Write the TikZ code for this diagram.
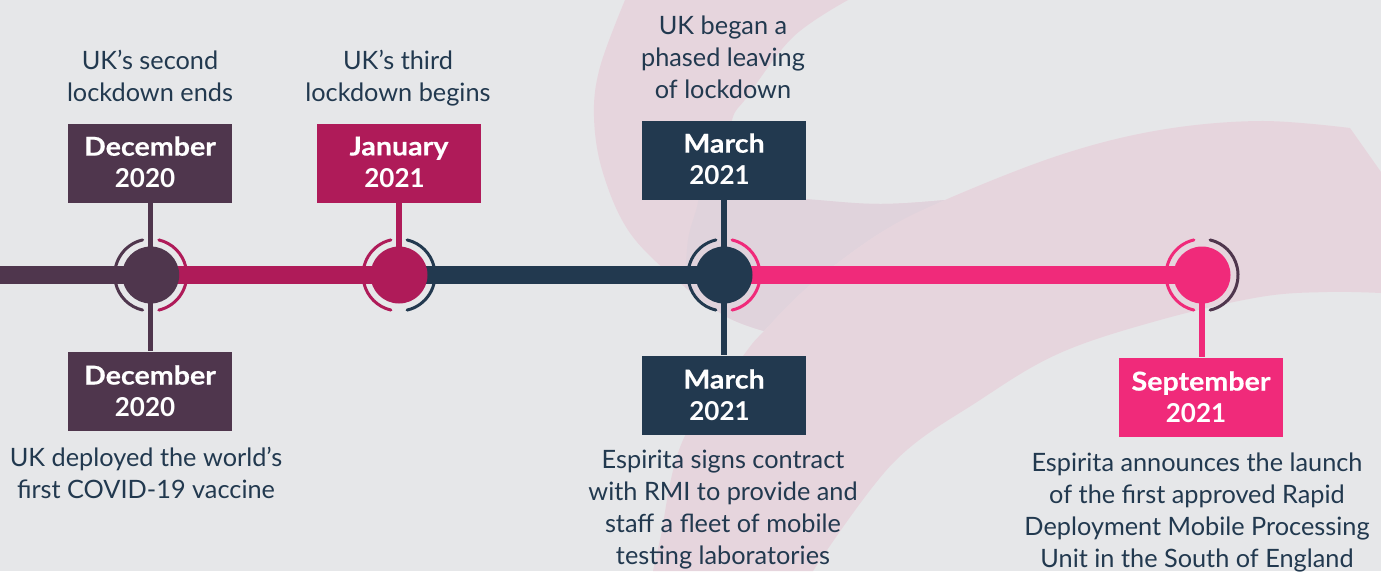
\documentclass[tikz,border=0pt]{standalone}
\usepackage{fontspec}
\setmainfont{Lato}
\newfontfamily\monthfont[BoldFeatures={FakeStretch=1.1,FakeBold=0.5}]{Lato}
\usetikzlibrary{backgrounds}
\definecolor{bgc}{HTML}{E6E7E9}
\definecolor{pinkc}{HTML}{E6D5DD}
\definecolor{darkpink}{HTML}{E0D3DC}
\definecolor{plum}{HTML}{4F364D}
\definecolor{crim}{HTML}{AF1B59}
\definecolor{navy}{HTML}{22394F}
\definecolor{hot}{HTML}{F02A7A}
\tikzset{
  x=1pt,y=-1pt,
  dot/.style={circle,fill=#1,minimum size=57pt,inner sep=0pt},
  datebox/.style={fill=#1,text=white,minimum width=164pt,minimum height=79pt,inner sep=0pt,align=center,font=\fontsize{26}{32}\selectfont\bfseries},
  body/.style={text=navy,align=center,inner sep=0pt,font=\fontsize{25.3}{32}\selectfont},
  ring/.style={draw=#1,line width=3pt,line cap=round},
  stem/.style={draw=#1,line width=5.3pt},
  barline/.style={draw=#1,line width=18pt}
}
\newcommand{\rings}[3]{%
  \draw[ring=#2] (#1.center) ++(103:36pt) arc[start angle=103,end angle=257,radius=36pt];
  \draw[ring=#3] (#1.center) ++(-77:36pt) arc[start angle=-77,end angle=77,radius=36pt];
}
\newcommand{\mon}[1]{{\monthfont\bfseries #1}}
\begin{document}
\begin{tikzpicture}
\useasboundingbox (0,0) rectangle (1381,571);
% dots
\node[dot=plum] (d1) at (150.7,275) {};
\node[dot=crim] (d2) at (399,275) {};
\node[dot=navy] (d3) at (724,275) {};
\node[dot=hot] (d4) at (1202,275) {};
\coordinate (start) at (0,275);
% date boxes
\node[datebox=plum] (b1) at (150,163.5) {\mon{December}\\2020\hspace*{10pt}\rule[-3pt]{0pt}{3pt}};
\node[datebox=plum] (b2) at (150,391) {\mon{December}\\2020\hspace*{10pt}};
\node[datebox=crim] (b3) at (399,163.5) {\mon{January}\\2021\hspace*{9pt}\rule[-3pt]{0pt}{3pt}};
\node[datebox=navy] (b4) at (724,160.5) {\mon{March}\\2021\hspace*{9pt}\rule[-3pt]{0pt}{3pt}};
\node[datebox=navy] (b5) at (724,395) {\mon{March}\\2021\hspace*{9pt}};
\node[datebox=hot] (b6) at (1201,397) {\mon{September}\\2021\hspace*{10pt}};
% labels
\node[body] (t1) at (150,76) {UK’s second\\lockdown ends};
\node[body] (t2) at (398,78.5) {UK’s third\\lockdown begins};
\node[body] (t3) at (723,57.7) {UK began a\\phased leaving\\of lockdown};
\node[body] (t4) at (146,473) {UK deployed the world’s\\first COVID-19 vaccine};
\node[body] (t5) at (723,510) {Espirita signs contract\\with RMI to provide and\\staff a fleet of mobile\\testing laboratories};
\node[body] (t6) at (1197,512) {Espirita announces the launch\\of the first approved Rapid\\Deployment Mobile Processing\\Unit in the South of England};
\begin{scope}[on background layer]
  \fill[bgc] (0,0) rectangle (1381,571);
  % crescent
  \fill[pinkc] plot[smooth,tension=.6] coordinates {(625,0) (600,67) (594,117) (603,173) (630,233) (680,283) (727,317) (764,331)}
     -- plot[smooth,tension=.6] coordinates {(764,331) (810,285) (880,233) (945,200)}
     -- plot[smooth,tension=.6] coordinates {(945,200) (880,204) (806,199) (725,172)}
     -- plot[smooth,tension=.6] coordinates {(725,172) (732,120) (747,97) (793,37) (848,0)} -- cycle;
  % overlap
  \fill[darkpink] plot[smooth,tension=.6] coordinates {(945,200) (880,204) (806,199) (700,190)}
     -- plot[smooth,tension=.6] coordinates {(700,190) (697,207) (688,240) (685,287)}
     -- plot[smooth,tension=.6] coordinates {(685,287) (727,317) (764,331)}
     -- plot[smooth,tension=.6] coordinates {(764,331) (810,285) (880,233) (945,200)} -- cycle;
  % swoosh
  \fill[pinkc] plot[smooth,tension=.6] coordinates {(653,571) (660,540) (683,440) (743,356) (764,331) (810,285) (880,233) (945,200) (1060,155) (1160,130) (1260,121) (1350,128)}
     -- (1381,172) -- (1381,293)
     -- plot[smooth,tension=.6] coordinates {(1381,293) (1327,292) (1260,297) (1160,320) (1060,353) (980,400) (893,463) (813,571)} -- cycle;
  % timeline
  \draw[barline=plum] (start) -- (d1.center);
  \draw[barline=crim] (d1.center) -- (d2.center);
  \draw[barline=navy] (d2.center) -- (d3.center);
  \draw[barline=hot] (d3.center) -- (d4.center);
  % stems
  \draw[stem=plum] (d1.center) -- (d1.center |- b1.south);
  \draw[stem=plum] (d1.center) -- (d1.center |- b2.north);
  \draw[stem=crim] (d2.center) -- (d2.center |- b3.south);
  \draw[stem=navy] (d3.center) -- (d3.center |- b4.south);
  \draw[stem=navy] (d3.center) -- (d3.center |- b5.north);
  \draw[stem=hot] (d4.center) -- (d4.center |- b6.north);
\end{scope}
\rings{d1}{plum}{crim}
\rings{d2}{crim}{navy}
\rings{d3}{navy}{hot}
\rings{d4}{hot}{plum}
\end{tikzpicture}
\end{document}
